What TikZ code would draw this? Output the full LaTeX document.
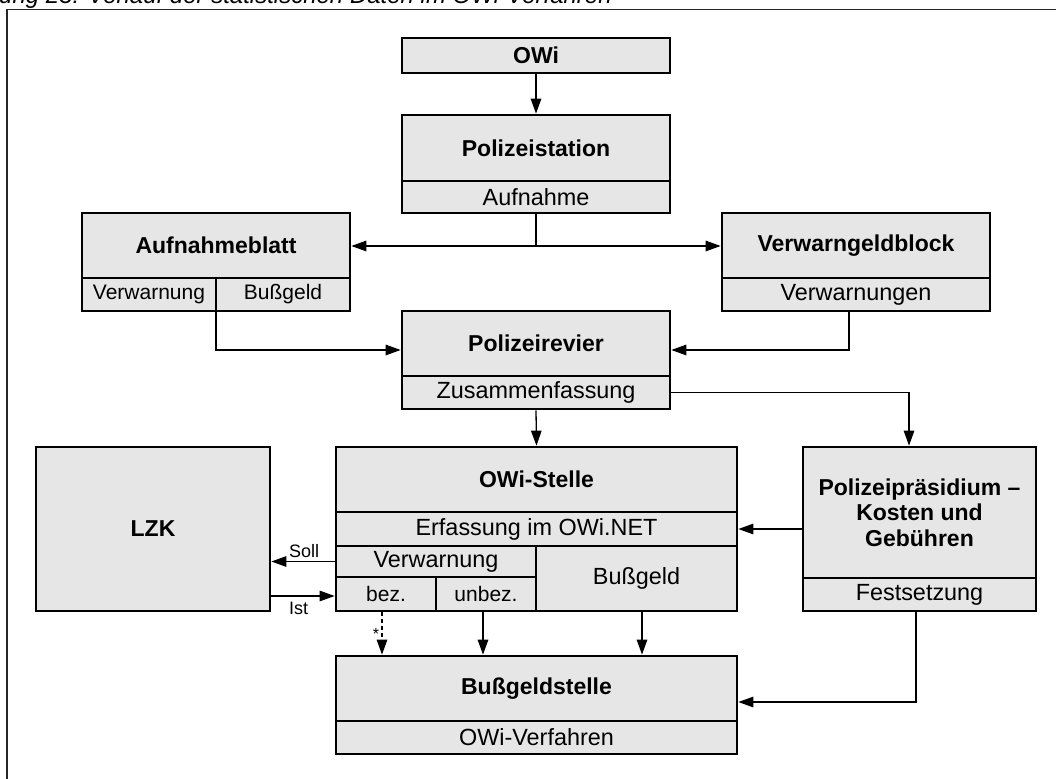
\documentclass[tikz,border=0pt]{standalone}
\usepackage{fontspec}
\setmainfont{Liberation Sans}
\usetikzlibrary{arrows.meta}
\definecolor{boxgray}{HTML}{E6E6E6}
\newcommand{\regf}{\fontsize{23.4}{26}\selectfont}
\newcommand{\titlef}{\fontsize{23}{25.5}\selectfont\bfseries}
\newcommand{\smallf}{\fontsize{21}{23}\selectfont}
\newcommand{\lblf}{\fontsize{18}{20}\selectfont}
\newcommand{\cellnode}[7]{\node[cellbox,#6,minimum width={(#4)-(#2)},minimum height={(#5)-(#3)}] (#1) at ({((#2)+(#4))/2},{((#3)+(#5))/2}) {#7};}
\begin{document}
\begin{tikzpicture}[x=1pt,y=-1pt,
  cellbox/.style={draw=black,line width=2.7pt,fill=boxgray,inner sep=0pt,align=center,font=\regf},
  ttl/.style={font=\titlef},
  smallcell/.style={font=\smallf},
  conn/.style={line width=1.3pt,-{Triangle[length=15pt,width=10.5pt]}},
  plain/.style={line width=1.3pt},
  lbl/.style={font=\lblf,inner sep=0pt}]
\useasboundingbox (0,0) rectangle (1056,778);
\clip (0,0) rectangle (1056,778);
% caption (cut off at the top, as in the reference) and frame
\node[anchor=base west,font=\fontsize{24}{28}\selectfont\itshape,inner sep=0pt] (cap) at (-1,4) {ung 23: Verlauf der statistischen Daten im OWi-Verfahren};
\draw[line width=1.8pt,black!85] (7,800) -- (7,9.5) -- (1090,9.5);
% boxes
\cellnode{owi}{402}{38}{670}{73}{ttl}{OWi}
\cellnode{pst}{402}{115}{670}{181}{ttl}{Polizeistation}
\cellnode{aufn}{402}{181}{670}{213}{}{Aufnahme}
\cellnode{ablatt}{82}{213}{350}{278}{ttl}{Aufnahmeblatt}
\cellnode{abvw}{82}{278}{216}{311}{smallcell}{Verwarnung}
\cellnode{abbg}{216}{278}{350}{311}{smallcell}{Bußgeld}
\cellnode{vgb}{722}{213}{990}{278}{ttl}{Verwarngeldblock}
\cellnode{vgbn}{722}{278}{990}{311}{}{Verwarnungen}
\cellnode{prev}{402}{311}{670}{376}{ttl}{Polizeirevier}
\cellnode{zus}{402}{376}{670}{409}{}{Zusammenfassung}
\cellnode{lzk}{36}{447}{270}{611}{ttl}{LZK}
\cellnode{ows}{336}{447}{737}{512}{ttl}{OWi-Stelle}
\cellnode{erf}{336}{512}{737}{546}{}{Erfassung im OWi.NET}
\cellnode{vwg}{336}{546}{536}{577}{}{Verwarnung}
\cellnode{bez}{336}{577}{436}{611}{smallcell}{bez.}
\cellnode{unbez}{436}{577}{536}{611}{smallcell}{unbez.}
\cellnode{bgeld}{536}{546}{737}{611}{}{Bußgeld}
\cellnode{pp}{803}{447}{1036}{578}{ttl}{Polizeipräsidium –\\Kosten und\\Gebühren}
\cellnode{fest}{803}{578}{1036}{611}{}{Festsetzung}
\cellnode{bgs}{336}{656}{737}{721}{ttl}{Bußgeldstelle}
\cellnode{owv}{336}{721}{737}{754}{}{OWi-Verfahren}
% connectors
\coordinate (jn) at (536,246);
\coordinate (abdiv) at (216,311);
\draw[conn] (owi.south) -- (pst.north);
\draw[plain] (aufn.south) -- (jn);
\draw[conn] (jn) -- (ablatt.east |- jn);
\draw[conn] (jn) -- (vgb.west |- jn);
\draw[conn] (abdiv) |- (prev.west |- 0,350);
\draw[conn] (vgbn.south -| 849,0) |- (prev.east |- 0,350);
\draw[conn] (zus.south) -- (ows.north);
\draw[conn] (zus.east) -| (pp.north -| 909,0);
\draw[conn] (pp.west |- erf.east) -- (erf.east);
\draw[conn] (vwg.west) -- (lzk.east |- vwg.west);
\node[lbl,anchor=south west] (soll) at (289,558) {Soll};
\draw[conn] (lzk.east |- 0,596) -- (bez.west |- 0,596);
\node[lbl,anchor=north west] (ist) at (289,602) {Ist};
\draw[conn,dash pattern=on 4pt off 3pt] (bez.south -| 382,0) -- (bgs.north -| 382,0);
\node[font=\fontsize{16}{18}\selectfont,inner sep=0pt] (star) at (376,634) {*};
\draw[conn] (unbez.south -| 483,0) -- (bgs.north -| 483,0);
\draw[conn] (bgeld.south -| 642,0) -- (bgs.north -| 642,0);
\draw[conn] (fest.south -| 916,0) |- (bgs.east |- 0,702);
\end{tikzpicture}
\end{document}
